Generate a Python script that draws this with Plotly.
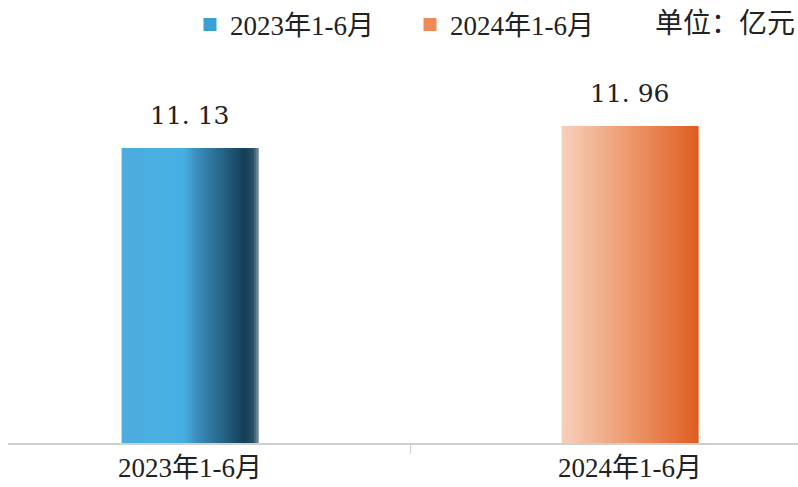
import plotly.graph_objects as go

# ---- data ----
categories = ["2023年1-6月", "2024年1-6月"]
series_names = ["2023年1-6月", "2024年1-6月"]
values = [11.13, 11.96]
unit_label = "单位：亿元"

# ---- style ----
FONT = "Liberation Serif, Noto Sans CJK SC, serif"
LABEL_FONT = "DejaVu Serif, Liberation Serif, serif"
TEXT_COLOR = "#222222"
AXIS_COLOR = "#cfcfcf"
legend_colors = ["#3a9fd2", "#ee8a55"]

blue_stops = [(0.0, (78, 172, 222)), (0.45, (70, 176, 226)), (0.55, (58, 142, 188)),
              (0.72, (40, 104, 140)), (0.9, (21, 62, 88)), (0.96, (40, 78, 100)),
              (1.0, (120, 146, 160))]
orange_stops = [(0.0, (246, 208, 188)), (0.5, (237, 152, 108)), (1.0, (222, 92, 32))]


def interp(stops, t):
    for (t0, c0), (t1, c1) in zip(stops[:-1], stops[1:]):
        if t0 <= t <= t1:
            f = (t - t0) / (t1 - t0) if t1 > t0 else 0
            c = [round(a + (b - a) * f) for a, b in zip(c0, c1)]
            return f"rgb({c[0]},{c[1]},{c[2]})"
    c = stops[-1][1]
    return f"rgb({c[0]},{c[1]},{c[2]})"


W, H = 798, 487
ML, MR, MT, MB = 8, 0, 60, 44
PW, PH = W - ML - MR, H - MT - MB

BAR_W = 0.311
N = 60
sw = BAR_W / N

fig = go.Figure()
for i in range(N):
    t = (i + 0.5) / N
    off = -BAR_W / 2 + i * sw
    wid = min(sw * 2.0, BAR_W / 2 - off)
    fig.add_trace(go.Bar(
        x=categories, y=values,
        width=[wid] * len(categories),
        offset=[off] * len(categories),
        marker=dict(color=[interp(blue_stops, t), interp(orange_stops, t)], line=dict(width=0)),
        showlegend=False, hoverinfo="skip",
    ))

# legend-only traces
for k, (name, col) in enumerate(zip(series_names, legend_colors)):
    fig.add_trace(go.Scatter(
        x=[None], y=[None], name=name, mode="markers",
        marker=dict(color=col, symbol="square", size=13, line=dict(width=0)),
        legend="legend" if k == 0 else "legend2",
        showlegend=True, hoverinfo="skip",
    ))

# value labels
for c, v in zip(categories, values):
    fig.add_annotation(
        x=c, y=v, xref="x", yref="y",
        text=f"{v:.2f}".replace(".", ". "),
        showarrow=False, yanchor="bottom", yshift=16,
        font=dict(family=LABEL_FONT, size=25, color=TEXT_COLOR),
    )

fig.add_annotation(
    x=(797 - ML) / PW, y=(H - MB - 23) / PH, xref="paper", yref="paper",
    xanchor="right", yanchor="middle", text=unit_label, showarrow=False,
    font=dict(family=FONT, size=28, color=TEXT_COLOR),
)

legend_common = dict(
    orientation="h", xref="container", yref="container",
    yanchor="middle", y=1 - 25 / H, xanchor="left",
    font=dict(family=FONT, size=27, color=TEXT_COLOR),
    bgcolor="rgba(0,0,0,0)", borderwidth=0,
)

fig.update_layout(
    width=W, height=H,
    margin=dict(l=ML, r=MR, t=MT, b=MB),
    paper_bgcolor="white", plot_bgcolor="white",
    barmode="overlay",
    font=dict(family=FONT, color=TEXT_COLOR),
    legend=dict(x=190 / W, **legend_common),
    legend2=dict(x=410 / W, **legend_common),
    xaxis=dict(
        type="category", range=[-182 / 440, 608 / 440],
        showline=True, linecolor=AXIS_COLOR, linewidth=2,
        ticks="outside", tickson="boundaries", ticklen=9, tickcolor=AXIS_COLOR, tickwidth=1,
        tickfont=dict(family=FONT, size=27, color=TEXT_COLOR),
        showgrid=False, zeroline=False,
    ),
    yaxis=dict(range=[0, PH / 26.5], visible=False, showgrid=False, zeroline=False),
)

fig.write_html("out.html")
